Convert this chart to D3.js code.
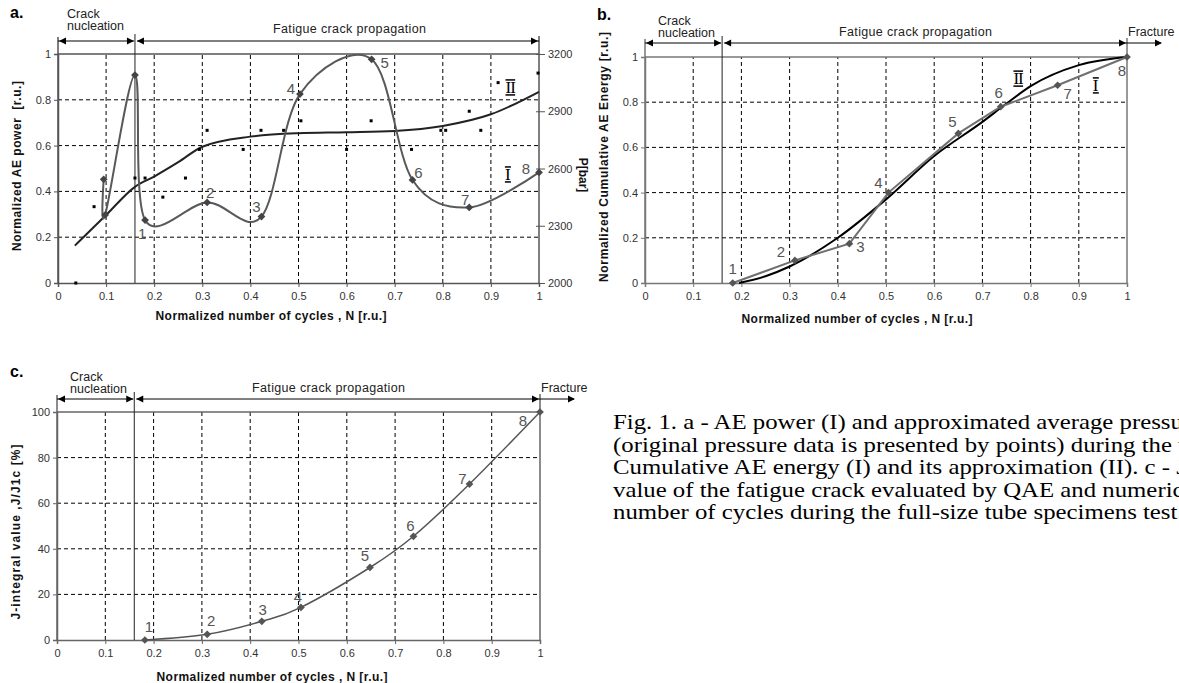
<!DOCTYPE html>
<html>
<head>
<meta charset="utf-8">
<script src="https://cdn.jsdelivr.net/npm/d3@7"></script>
<style>
  body { margin: 0; background: #fff; }
  svg { display: block; font-family: "Liberation Sans", Arial, sans-serif; }
  .grid line { stroke: #000; stroke-width: 1; stroke-dasharray: 4,3; }
  .tick text { font-size: 11px; fill: #333; font-family: "Liberation Sans", Arial, sans-serif; }
  .num { font-size: 15px; fill: #555; }
  .stage { font-size: 12.5px; fill: #222; }
  .title { font-size: 12px; font-weight: bold; fill: #111; }
</style>
</head>
<body>
<svg id="fig" width="1179" height="683"></svg>
<script>
// shared x values
const cycleTicks = [0, 0.1, 0.2, 0.3, 0.4, 0.5, 0.6, 0.7, 0.8, 0.9, 1]
const stageBoundary = 0.16
const pointNames = ['1', '2', '3', '4', '5', '6', '7', '8']

// a. AE power (I), first three points are the nucleation burst, then points 1..8
const powerN = [0.095, 0.098, 0.16, 0.181, 0.31, 0.423, 0.503, 0.652, 0.737, 0.855, 1.0]
const powerVal = [0.453, 0.297, 0.908, 0.275, 0.352, 0.29, 0.825, 0.977, 0.45, 0.33, 0.483]
const powerTicks = [0, 0.2, 0.4, 0.6, 0.8, 1]

// a. pressure points and its approximation (II)
const pressureN = [0.037, 0.075, 0.16, 0.181, 0.218, 0.265, 0.294, 0.31, 0.385, 0.422, 0.469,
                   0.505, 0.6, 0.651, 0.735, 0.796, 0.806, 0.855, 0.879, 0.915, 0.998]
const pressureBar = [2000, 2400, 2550, 2550, 2450, 2550, 2700, 2800, 2700, 2800, 2800,
                     2850, 2700, 2850, 2700, 2800, 2800, 2900, 2800, 3050, 3100]
const pressureFitN = [0.035, 0.1, 0.16, 0.2, 0.25, 0.3, 0.4, 0.5, 0.6, 0.7, 0.8, 0.9, 1.0]
const pressureFitBar = [2196, 2356, 2504, 2558, 2633, 2714, 2767, 2785, 2790, 2797, 2823, 2884, 3002]
const pressureTicks = [2000, 2300, 2600, 2900, 3200]

// b. cumulative AE energy (I) and approximation (II)
const energyN = [0.182, 0.311, 0.424, 0.505, 0.65, 0.738, 0.856, 1.0]
const energyVal = [0, 0.1, 0.174, 0.4, 0.662, 0.78, 0.875, 1.0]
const energyFitN = [0.195, 0.25, 0.3, 0.4, 0.5, 0.6, 0.7, 0.75, 0.8, 0.9, 1.0]
const energyFitVal = [0, 0.03, 0.073, 0.2, 0.37, 0.562, 0.713, 0.794, 0.871, 0.964, 1.0]
const energyTicks = [0, 0.2, 0.4, 0.6, 0.8, 1]

// c. J-integral
const jN = [0.182, 0.311, 0.424, 0.505, 0.648, 0.738, 0.854, 1.0]
const jVal = [0, 2.5, 8.2, 14.3, 31.8, 45.5, 68.4, 100]
const jTicks = [0, 20, 40, 60, 80, 100]

const captionLines = [
  'Fig. 1. a - AE power (I) and approximated average pressure (II)',
  '(original pressure data is presented by points) during the test. b -',
  'Cumulative AE energy (I) and its approximation (II). c - J-integral',
  'value of the fatigue crack evaluated by QAE and numerical simulation vs',
  'number of cycles during the full-size tube specimens test.'
]

const svg = d3.select('#fig')
const fmt = d3.format('~g')
const smooth = d3.curveCardinal.tension(0)

function head(g, tip, yy, dir) {
  g.append('path')
    .attr('d', `M${tip},${yy}l${-dir * 7},-3.5v7z`)
    .attr('fill', '#000')
}

function drawPanel(p) {
  const g = svg.append('g')
  const x = d3.scaleLinear().domain([0, 1]).range(p.xRange)
  const y = d3.scaleLinear().domain(p.yDomain).range(p.yRange)
  const [left, right] = x.range()
  const [bottom, top] = y.range()

  g.append('g').attr('class', 'grid').selectAll('line')
    .data(cycleTicks.filter(d => d > 0 && d < 1)).join('line')
    .attr('x1', d => x(d)).attr('x2', d => x(d)).attr('y1', bottom).attr('y2', top)
  g.append('g').attr('class', 'grid').selectAll('line')
    .data(p.yTicks.slice(1, -1)).join('line')
    .attr('x1', left).attr('x2', right).attr('y1', d => y(d)).attr('y2', d => y(d))

  const xAxis = g.append('g').attr('transform', `translate(0,${bottom})`)
    .call(d3.axisBottom(x).tickValues(cycleTicks).tickFormat(fmt).tickSizeOuter(0).tickSize(4).tickPadding(5))
  const yAxis = g.append('g').attr('transform', `translate(${left},0)`)
    .call(d3.axisLeft(y).tickValues(p.yTicks).tickFormat(fmt).tickSizeOuter(0).tickSize(4).tickPadding(3))
  for (const ax of [xAxis, yAxis]) {
    ax.select('.domain').attr('stroke', p.frame).attr('stroke-width', 1.5)
    ax.selectAll('.tick line').attr('stroke', p.frame)
  }

  // frame: top border, left/right lines up to the stage arrows
  g.append('line').attr('x1', left).attr('x2', right).attr('y1', top).attr('y2', top)
    .attr('stroke', p.frame).attr('stroke-width', 1.5)
  g.append('line').attr('x1', left).attr('x2', left).attr('y1', bottom).attr('y2', p.arrowY - 4)
    .attr('stroke', p.frame).attr('stroke-width', 1.5)
  g.append('line').attr('x1', right).attr('x2', right).attr('y1', bottom).attr('y2', p.arrowY - 5)
    .attr('stroke', p.frame).attr('stroke-width', 1.5)
  g.append('line').attr('x1', x(stageBoundary)).attr('x2', x(stageBoundary))
    .attr('y1', bottom).attr('y2', p.arrowY - 7).attr('stroke', '#222').attr('stroke-width', 1)

  // stage arrows
  const xb = x(stageBoundary)
  const ar = g.append('g').attr('stroke', '#000').attr('stroke-width', 1)
  ar.append('line').attr('x1', left).attr('x2', xb - 1).attr('y1', p.arrowY).attr('y2', p.arrowY)
  ar.append('line').attr('x1', xb + 2).attr('x2', right).attr('y1', p.arrowY).attr('y2', p.arrowY)
  head(g, left + 1, p.arrowY, -1)
  head(g, xb - 1, p.arrowY, 1)
  head(g, xb + 2, p.arrowY, -1)
  head(g, right - 1, p.arrowY, 1)
  if (p.fracture) {
    ar.append('line').attr('x1', right).attr('x2', right + 34).attr('y1', p.arrowY).attr('y2', p.arrowY)
    head(g, right + 35, p.arrowY, 1)
    g.append('text').attr('class', 'stage').attr('x', right + 1).attr('y', p.arrowY - 7).text('Fracture')
  }
  g.append('text').attr('class', 'stage').attr('x', p.crackX).attr('y', p.crackY).text('Crack')
  g.append('text').attr('class', 'stage').attr('x', p.crackX).attr('y', p.crackY + 12).text('nucleation')
  g.append('text').attr('class', 'stage').attr('x', p.fatigueX).attr('y', p.fatigueY)
    .attr('textLength', 153).attr('lengthAdjust', 'spacing').text('Fatigue crack propagation')

  // letters and titles
  g.append('text').attr('x', p.letterX).attr('y', p.letterY).attr('font-size', 16).attr('font-weight', 'bold')
    .text(p.letter)
  g.append('text').attr('class', 'title').attr('text-anchor', 'middle')
    .attr('x', p.xTitle[0]).attr('y', p.xTitle[1]).attr('textLength', 231).attr('lengthAdjust', 'spacing')
    .text('Normalized number of cycles , N [r.u.]')
  g.append('text').attr('class', 'title').attr('text-anchor', 'middle')
    .attr('transform', `translate(${p.yTitle[0]},${p.yTitle[1]}) rotate(-90)`)
    .attr('textLength', p.yTitle[2]).attr('lengthAdjust', 'spacing')
    .style('white-space', 'pre')
    .text(p.yLabel)

  return { g, x, y }
}

function markers(g, xs, ys, color) {
  g.append('g').selectAll('path').data(xs).join('path')
    .attr('d', d3.symbol(d3.symbolSquare, 30))
    .attr('transform', (d, i) => `translate(${xs[i]},${ys[i]}) rotate(45)`)
    .attr('fill', color)
}

function numbers(g, xs, ys, offsets) {
  g.append('g').selectAll('text').data(pointNames).join('text')
    .attr('class', 'num').attr('text-anchor', 'middle').attr('dominant-baseline', 'central')
    .attr('x', (d, i) => xs[i] + offsets[i][0])
    .attr('y', (d, i) => ys[i] + offsets[i][1])
    .text(d => d)
}

function roman(g, px, py, label) {
  const t = g.append('text').attr('x', px).attr('y', py).attr('text-anchor', 'middle')
    .attr('font-family', '"Liberation Serif", serif').attr('font-size', 17)
    .attr('letter-spacing', label.length > 1 ? -1 : 0).text(label)
  const b = t.node().getBBox()
  for (const yy of [py - 13, py + 2]) {
    g.append('line').attr('x1', b.x).attr('x2', b.x + b.width + (label.length > 1 ? -1 : 0))
      .attr('y1', yy).attr('y2', yy).attr('stroke', '#000').attr('stroke-width', 1.5)
  }
}

// ---------- panel a ----------
const A = drawPanel({
  letter: 'a.', letterX: 10, letterY: 18, xRange: [58, 539], yRange: [283, 54], yDomain: [0, 1],
  yTicks: powerTicks, frame: '#555', arrowY: 41, fracture: false,
  crackX: 67, crackY: 18, fatigueX: 273, fatigueY: 33,
  xTitle: [271, 320], yTitle: [21, 166, 170], yLabel: 'Normalized AE power  [r.u.]'
})
const yP = d3.scaleLinear().domain([2000, 3200]).range([283, 54])
const pAxis = A.g.append('g').attr('transform', 'translate(539,0)')
  .call(d3.axisRight(yP).tickValues(pressureTicks).tickFormat(d3.format('d')).tickSize(6).tickPadding(3))
pAxis.select('.domain').remove()
pAxis.selectAll('.tick line').attr('stroke', '#555').attr('x1', -3)
A.g.append('text').attr('class', 'title').attr('text-anchor', 'middle')
  .attr('transform', 'translate(579,175) rotate(90)').text('P[bar]')

A.g.append('path')
  .datum(pressureFitN.map((n, i) => [A.x(n), yP(pressureFitBar[i])]))
  .attr('d', d3.line().curve(d3.curveMonotoneX))
  .attr('fill', 'none').attr('stroke', '#222').attr('stroke-width', 2)
A.g.append('g').selectAll('rect').data(pressureN).join('rect')
  .attr('x', (d, i) => A.x(d) - 1.5).attr('y', (d, i) => yP(pressureBar[i]) - 1.5)
  .attr('width', 3).attr('height', 3).attr('fill', '#000')

const powerPx = powerN.map(n => A.x(n))
const powerPy = powerVal.map(v => A.y(v))
A.g.append('path')
  .datum(powerN.map((n, i) => [powerPx[i], powerPy[i]]))
  .attr('d', d3.line().curve(smooth))
  .attr('fill', 'none').attr('stroke', '#595959').attr('stroke-width', 2)
markers(A.g, powerPx, powerPy, '#444')
numbers(A.g, powerPx.slice(3), powerPy.slice(3),
  [[-3, 13], [3, -10], [-5, -10], [-9, -6], [13, 3], [6, -7], [-4, -8], [-13, -4]])
roman(A.g, A.x(0.94), A.y(0.83), 'II')
roman(A.g, A.x(0.935), A.y(0.45), 'I')

// ---------- panel b ----------
const B = drawPanel({
  letter: 'b.', letterX: 597, letterY: 20, xRange: [645, 1127], yRange: [283, 57], yDomain: [0, 1],
  yTicks: energyTicks, frame: '#777', arrowY: 43, fracture: true,
  crackX: 658, crackY: 25, fatigueX: 839, fatigueY: 36,
  xTitle: [857, 323], yTitle: [608, 157, 250], yLabel: 'Normalized Cumulative AE Energy [r.u.]'
})
const ePx = energyN.map(n => B.x(n))
const ePy = energyVal.map(v => B.y(v))
B.g.append('path')
  .datum(energyFitN.map((n, i) => [B.x(n), B.y(energyFitVal[i])]))
  .attr('d', d3.line().curve(d3.curveMonotoneX))
  .attr('fill', 'none').attr('stroke', '#000').attr('stroke-width', 2)
B.g.append('path')
  .datum(energyN.map((n, i) => [ePx[i], ePy[i]]))
  .attr('d', d3.line())
  .attr('fill', 'none').attr('stroke', '#707070').attr('stroke-width', 2)
markers(B.g, ePx, ePy, '#555')
numbers(B.g, ePx, ePy,
  [[0, -15], [-14, -9], [11, 3], [-10, -10], [-6, -12], [-2, -14], [10, 8], [-5, 13]])
roman(B.g, B.x(0.774), B.y(0.88), 'II')
roman(B.g, B.x(0.935), B.y(0.85), 'I')

// ---------- panel c ----------
const C = drawPanel({
  letter: 'c.', letterX: 10, letterY: 377, xRange: [57, 540], yRange: [640, 412], yDomain: [0, 100],
  yTicks: jTicks, frame: '#666', arrowY: 399, fracture: true,
  crackX: 70, crackY: 381, fatigueX: 252, fatigueY: 392,
  xTitle: [272, 681], yTitle: [20, 532, 175], yLabel: 'J-integral value ,J/J1c [%]'
})
const jPx = jN.map(n => C.x(n))
const jPy = jVal.map(v => C.y(v))
C.g.append('path')
  .datum(jN.map((n, i) => [jPx[i], jPy[i]]))
  .attr('d', d3.line().curve(smooth))
  .attr('fill', 'none').attr('stroke', '#555').attr('stroke-width', 1.5)
markers(C.g, jPx, jPy, '#555')
numbers(C.g, jPx, jPy,
  [[4, -14], [4, -14], [1, -12], [-3, -11], [-5, -12], [-3, -11], [-7, -6], [-17, 8]])

// ---------- caption ----------
const cap = svg.append('g').attr('transform', 'translate(613,0)')
cap.selectAll('text').data(captionLines).join('text')
  .attr('transform', (d, i) => `translate(0,${429 + i * 22.5}) scale(1.24,1)`)
  .attr('font-family', '"Liberation Serif", "Times New Roman", serif')
  .attr('font-size', 20).attr('fill', '#000')
  .text(d => d)
</script>
</body>
</html>
